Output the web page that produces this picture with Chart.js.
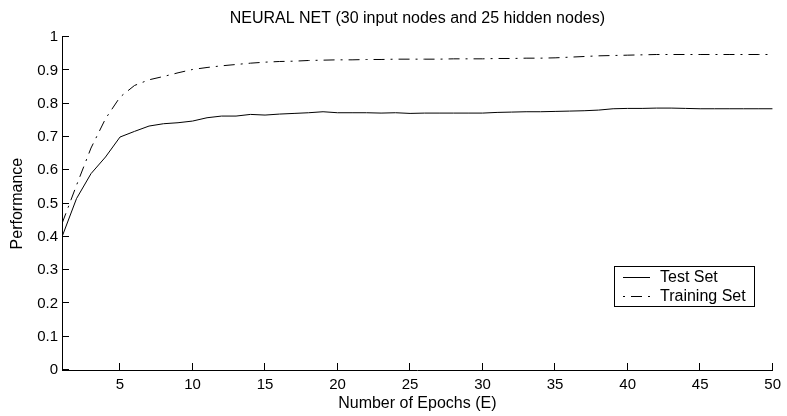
<!DOCTYPE html>
<html>
<head>
<meta charset="utf-8">
<script src="https://cdn.jsdelivr.net/npm/chart.js@4/dist/chart.umd.min.js"></script>
<style>
  html, body { margin: 0; padding: 0; background: #fff; }
  #wrap { width: 787px; height: 416px; }
</style>
</head>
<body>
<div id="wrap"><canvas id="c" width="787" height="416"></canvas></div>
<script>
// Epoch numbers along the horizontal axis
const epochs = [1, 2, 3, 4, 5, 6, 7, 8, 9, 10,
  11, 12, 13, 14, 15, 16, 17, 18, 19, 20,
  21, 22, 23, 24, 25, 26, 27, 28, 29, 30,
  31, 32, 33, 34, 35, 36, 37, 38, 39, 40,
  41, 42, 43, 44, 45, 46, 47, 48, 49, 50];

// Performance on the test set, one value per epoch
const testSet = [0.400, 0.515, 0.590, 0.640, 0.700, 0.717, 0.733, 0.740, 0.743, 0.748,
  0.758, 0.763, 0.763, 0.768, 0.766, 0.769, 0.771, 0.773, 0.776, 0.773,
  0.773, 0.773, 0.772, 0.773, 0.771, 0.772, 0.772, 0.772, 0.772, 0.772,
  0.774, 0.775, 0.776, 0.776, 0.777, 0.778, 0.779, 0.781, 0.785, 0.786,
  0.786, 0.787, 0.787, 0.786, 0.785, 0.785, 0.785, 0.785, 0.785, 0.785];

// Performance on the training set, one value per epoch
const trainingSet = [0.440, 0.555, 0.667, 0.755, 0.820, 0.855, 0.872, 0.882, 0.893, 0.903,
  0.909, 0.914, 0.918, 0.922, 0.925, 0.927, 0.928, 0.930, 0.931, 0.932,
  0.932, 0.933, 0.933, 0.934, 0.934, 0.934, 0.934, 0.935, 0.935, 0.935,
  0.936, 0.936, 0.937, 0.937, 0.938, 0.940, 0.942, 0.944, 0.945, 0.946,
  0.947, 0.948, 0.948, 0.948, 0.948, 0.948, 0.948, 0.948, 0.948, 0.948];

// Axis ticks
const xTicks = [5, 10, 15, 20, 25, 30, 35, 40, 45, 50];
const yTicks = [0, 0.1, 0.2, 0.3, 0.4, 0.5, 0.6, 0.7, 0.8, 0.9, 1];
const yTickLabels = ['0', '0.1', '0.2', '0.3', '0.4', '0.5', '0.6', '0.7', '0.8', '0.9', '1'];

const FONT = "'Liberation Sans', Arial, Helvetica, sans-serif";
const TRAIN_DASH = [11, 6, 2, 6];

// Short tick marks pointing into the plot from the left and bottom axes
const inwardTicks = {
  id: 'inwardTicks',
  afterDraw(chart) {
    const { ctx, chartArea, scales } = chart;
    const len = 7;
    ctx.save();
    ctx.strokeStyle = '#000';
    ctx.lineWidth = 1;
    ctx.beginPath();
    scales.x.ticks.forEach(t => {
      const px = Math.round(scales.x.getPixelForValue(t.value)) - 0.5;
      ctx.moveTo(px, chartArea.bottom);
      ctx.lineTo(px, chartArea.bottom - len);
    });
    scales.y.ticks.forEach(t => {
      const py = Math.round(scales.y.getPixelForValue(t.value)) - 0.5;
      ctx.moveTo(chartArea.left, py);
      ctx.lineTo(chartArea.left + len, py);
    });
    ctx.stroke();
    ctx.restore();
  }
};

// Boxed legend in the lower right of the plot
const boxLegend = {
  id: 'boxLegend',
  afterDraw(chart) {
    const { ctx, chartArea } = chart;
    const sets = chart.data.datasets;
    ctx.save();
    ctx.font = '16px ' + FONT;
    const textW = Math.max(...sets.map(d => ctx.measureText(d.label).width));
    const padL = 9, sampleW = 27, gap = 10, padR = 9, rowH = 19, padT = 11, padB = 11;
    const w = padL + sampleW + gap + textW + padR;
    const h = padT + rowH * (sets.length - 1) + padB;
    const right = Math.round(chartArea.right - 18);
    const bottom = Math.round(chartArea.bottom - 63);
    const x0 = right - Math.round(w), y0 = bottom - Math.round(h);
    ctx.fillStyle = '#fff';
    ctx.fillRect(x0, y0, Math.round(w), Math.round(h));
    ctx.strokeStyle = '#000';
    ctx.lineWidth = 1;
    ctx.strokeRect(x0 + 0.5, y0 + 0.5, Math.round(w) - 1, Math.round(h) - 1);
    sets.forEach((d, i) => {
      const cy = y0 + padT + i * rowH + 0.5;
      ctx.beginPath();
      ctx.setLineDash(d.borderDash || []);
      ctx.lineDashOffset = d.borderDash ? 17 : 0;
      ctx.strokeStyle = d.borderColor;
      ctx.lineWidth = d.borderWidth;
      ctx.moveTo(x0 + padL, cy);
      ctx.lineTo(x0 + padL + sampleW, cy);
      ctx.stroke();
      ctx.setLineDash([]);
      ctx.fillStyle = '#000';
      ctx.textBaseline = 'middle';
      ctx.textAlign = 'left';
      ctx.fillText(d.label, x0 + padL + sampleW + gap, cy);
    });
    ctx.restore();
  }
};

const toPoints = vals => epochs.map((e, i) => ({ x: e, y: vals[i] }));

new Chart(document.getElementById('c'), {
  type: 'line',
  data: {
    datasets: [
      {
        label: 'Test Set',
        data: toPoints(testSet),
        borderColor: '#000',
        borderWidth: 1,
        pointRadius: 0,
        tension: 0,
        fill: false
      },
      {
        label: 'Training Set',
        data: toPoints(trainingSet),
        borderColor: '#000',
        borderWidth: 1,
        borderDash: TRAIN_DASH,
        pointRadius: 0,
        tension: 0,
        fill: false
      }
    ]
  },
  options: {
    responsive: false,
    animation: false,
    devicePixelRatio: 1,
    layout: { padding: { left: 0, right: 12, top: 0, bottom: 0 } },
    plugins: {
      legend: { display: false },
      tooltip: { enabled: false },
      title: {
        display: true,
        fullSize: false,
        text: 'NEURAL NET (30 input nodes and 25 hidden nodes)',
        color: '#000',
        font: { family: FONT, size: 16, weight: 'normal' },
        padding: { top: 9, bottom: 9 }
      }
    },
    scales: {
      x: {
        type: 'linear',
        min: 1,
        max: 50,
        afterBuildTicks: s => { s.ticks = xTicks.map(v => ({ value: v })); },
        afterFit: s => { s.height = 46; },
        grid: { display: false, drawTicks: false },
        border: { display: true, color: '#000', width: 1 },
        ticks: {
          color: '#000',
          font: { family: FONT, size: 15 },
          padding: 6,
          maxRotation: 0,
          autoSkip: false,
          callback: v => String(v)
        },
        title: {
          display: true,
          text: 'Number of Epochs (E)',
          color: '#000',
          font: { family: FONT, size: 16 },
          padding: { top: 0, bottom: 3 }
        }
      },
      y: {
        type: 'linear',
        min: 0,
        max: 1,
        afterBuildTicks: s => { s.ticks = yTicks.map(v => ({ value: v })); },
        afterFit: s => { s.width = 62; },
        grid: { display: false, drawTicks: false },
        border: { display: true, color: '#000', width: 1 },
        ticks: {
          color: '#000',
          font: { family: FONT, size: 15 },
          padding: 4,
          autoSkip: false,
          callback: (v, i) => yTickLabels[i]
        },
        title: {
          display: true,
          text: 'Performance',
          color: '#000',
          font: { family: FONT, size: 16 },
          padding: { top: 8, bottom: 0 }
        }
      }
    }
  },
  plugins: [inwardTicks, boxLegend]
});
</script>
</body>
</html>
